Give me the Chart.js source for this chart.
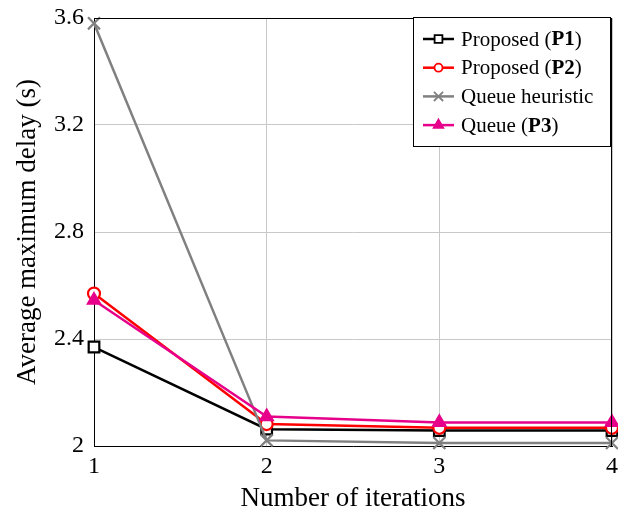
<!DOCTYPE html>
<html><head><meta charset="utf-8">
<script src="https://cdn.jsdelivr.net/npm/chart.js@4/dist/chart.umd.min.js"></script>
<style>html,body{margin:0;padding:0;background:#fff}#w{width:618px;height:512px}</style>
</head><body><div id="w"><canvas id="c"></canvas></div>
<script>
const iterations = [1, 2, 3, 4];
const proposedP1 = [2.37, 2.063, 2.058, 2.058];
const proposedP2 = [2.57, 2.082, 2.068, 2.068];
const queueHeuristic = [3.58, 2.021, 2.011, 2.011];
const queueP3 = [2.545, 2.11, 2.088, 2.088];
const yTicks = [2, 2.4, 2.8, 3.2, 3.6];
const legendLabels = [
  ["Proposed (", "P1", ")"],
  ["Proposed (", "P2", ")"],
  ["Queue heuristic", "", ""],
  ["Queue (", "P3", ")"]
];
const FONT = "'Liberation Serif', 'DejaVu Serif', serif";
const MAG = '#e6008a';
function pts(arr){ return iterations.map((x,i)=>({x:x,y:arr[i]})); }
const styles = [
  {c:'#000000', s:'rect', r:7.5, lr:5.5, fill:'#ffffff'},
  {c:'#ff0000', s:'circle', r:6, lr:4, fill:'#ffffff'},
  {c:'#808080', s:'crossRot', r:8.5, lr:6.5, fill:'#808080'},
  {c:MAG, s:'triangle', r:7, lr:5.5, fill:MAG}
];
const series = [proposedP1, proposedP2, queueHeuristic, queueP3];
const datasets = series.map((d,i)=>({
  label: legendLabels[i].join(''),
  data: pts(d),
  borderColor: styles[i].c,
  backgroundColor: styles[i].fill,
  borderWidth: 2.5,
  pointStyle: styles[i].s,
  pointRadius: styles[i].r,
  pointBorderColor: styles[i].c,
  pointBackgroundColor: styles[i].fill,
  pointBorderWidth: 2.2,
  clip: false,
  tension: 0
}));
datasets.reverse();
const legendPlugin = {
  id: 'legendBox',
  afterDraw(chart){
    const ctx = chart.ctx, a = chart.chartArea;
    ctx.save();
    ctx.strokeStyle = '#000'; ctx.lineWidth = 1;
    ctx.beginPath();
    ctx.moveTo(a.left, a.top+0.5); ctx.lineTo(a.right, a.top+0.5);
    ctx.moveTo(a.right-0.5, a.top); ctx.lineTo(a.right-0.5, a.bottom);
    ctx.stroke();
    const bw = 197, bh = 129, bx = a.right - bw - 2, by = a.top - 1;
    ctx.fillStyle = '#fff'; ctx.fillRect(bx, by, bw, bh);
    ctx.strokeStyle = '#000'; ctx.lineWidth = 1;
    ctx.strokeRect(bx+0.5, by+0.5, bw, bh);
    legendLabels.forEach((parts, i) => {
      const st = styles[i];
      const cy = by + 22 + i * 28.7;
      const x0 = bx + 10, x1 = bx + 41;
      ctx.strokeStyle = st.c; ctx.lineWidth = 2.5;
      ctx.beginPath(); ctx.moveTo(x0, cy); ctx.lineTo(x1, cy); ctx.stroke();
      ctx.fillStyle = st.fill; ctx.strokeStyle = st.c; ctx.lineWidth = 1.8;
      Chart.helpers.drawPoint(ctx, {pointStyle: st.s, radius: st.lr, borderWidth: 1.8}, (x0+x1)/2, cy);
      let tx = bx + 48;
      ctx.fillStyle = '#000'; ctx.textBaseline = 'middle'; ctx.textAlign = 'left';
      parts.forEach((p, j) => {
        if (!p) return;
        ctx.font = (j === 1 ? 'bold ' : '') + '21px ' + FONT;
        ctx.fillText(p, tx, cy + 1);
        tx += ctx.measureText(p).width;
      });
    });
    ctx.restore();
  }
};
new Chart(document.getElementById('c'), {
  type: 'line',
  data: { datasets },
  options: {
    responsive: true, maintainAspectRatio: false, animation: false,
    devicePixelRatio: 1,
    layout: { autoPadding: false, padding: { top: 18, right: 6, left: 0, bottom: 0 } },
    plugins: { legend: { display: false }, tooltip: { enabled: false } },
    scales: {
      x: {
        type: 'linear', min: 1, max: 4,
        afterBuildTicks: s => { s.ticks = iterations.map(v => ({value: v})); },
        afterFit: s => { s.height = 66; },
        grid: { color: '#c8c8c8', lineWidth: 1, drawTicks: true, tickLength: 6, tickColor: 'rgba(0,0,0,0)' },
        border: { color: '#000', width: 1 },
        ticks: { color: '#000', font: { family: FONT, size: 24 }, padding: 0, callback: v => String(v) },
        title: { display: true, text: 'Number of iterations', color: '#000', font: { family: FONT, size: 27, lineHeight: 1 }, padding: { top: 2, bottom: 0 } }
      },
      y: {
        type: 'linear', min: 2, max: 3.6,
        afterBuildTicks: s => { s.ticks = yTicks.map(v => ({value: v})); },
        afterFit: s => { s.width = 94; s.paddingTop = 0; s.paddingBottom = 0; },
        grid: { color: '#c8c8c8', lineWidth: 1, drawTicks: false },
        border: { color: '#000', width: 1 },
        ticks: { color: '#000', font: { family: FONT, size: 24 }, padding: 10, callback: v => String(v) },
        title: { display: true, text: 'Average maximum delay (s)', color: '#000', font: { family: FONT, size: 27 }, padding: { top: 12, bottom: 4 } }
      }
    }
  },
  plugins: [legendPlugin]
});
</script>
</body></html>
